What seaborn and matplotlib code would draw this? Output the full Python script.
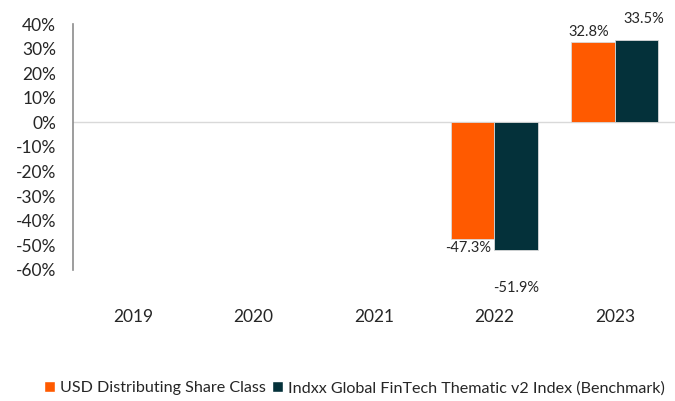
import pandas as pd
import numpy as np
import matplotlib.pyplot as plt
import seaborn as sns
from matplotlib.patches import Patch

# ------------------------------
# Data
# ------------------------------
years = ["2019", "2020", "2021", "2022", "2023"]
share_class = [np.nan, np.nan, np.nan, -47.3, 32.8]
benchmark = [np.nan, np.nan, np.nan, -51.9, 33.5]
series_names = ["USD Distributing Share Class",
                "Indxx Global FinTech Thematic v2 Index (Benchmark)"]
colors = ["#FF5A00", "#04313A"]

df = pd.DataFrame({
    "year": years * 2,
    "value": share_class + benchmark,
    "series": [series_names[0]] * len(years) + [series_names[1]] * len(years),
})

# ------------------------------
# Plot
# ------------------------------
sns.set_style("white")
plt.rcParams["font.family"] = ["Lato", "DejaVu Sans"]

fig = plt.figure(figsize=(6.75, 4.01), dpi=100)
ax = fig.add_axes([0.108, 0.327, 0.892, 0.613])

sns.barplot(data=df, x="year", y="value", hue="series", order=years,
            hue_order=series_names, palette=colors, width=0.72, saturation=1,
            edgecolor="#d9d9d9", linewidth=0.6, ax=ax, legend=False)

ax.set_ylim(-60, 40)
ax.set_xlim(-0.5, 4.5)
ax.set_yticks(np.arange(-60, 41, 10))
ax.set_yticklabels([f"{v}%" for v in range(-60, 41, 10)])
ax.axhline(0, color="#d9d9d9", linewidth=1, zorder=0)

for s in ["top", "right", "bottom"]:
    ax.spines[s].set_visible(False)
ax.spines["left"].set_color("#8c8c8c")
ax.spines["left"].set_linewidth(1.2)

ax.tick_params(axis="y", length=0, pad=12, labelsize=12.5, labelcolor="#262626")
ax.tick_params(axis="x", length=0, pad=28, labelsize=12.5, labelcolor="#262626")
ax.set_xlabel("")
ax.set_ylabel("")

# value labels (offsets in points, mimicking the original placement)
offsets = {
    (0, "2022"): (-3, -2), (1, "2022"): (0, -22),
    (0, "2023"): (-3, 2), (1, "2023"): (5, 10),
}
for i, vals in enumerate([share_class, benchmark]):
    bars = [b for b in ax.containers[i] if not np.isnan(b.get_height())]
    shown = [(yr, v) for yr, v in zip(years, vals) if not np.isnan(v)]
    for bar, (yr, v) in zip(bars, shown):
        x = bar.get_x() + bar.get_width() / 2
        dx, dy = offsets[(i, yr)]
        va = "bottom" if v > 0 else "top"
        ax.annotate(f"{v:.1f}%", (x, v), xytext=(dx, dy),
                    textcoords="offset points", ha="center", va=va,
                    fontsize=10.5, color="#262626")

handles = [Patch(facecolor=c, label=n) for c, n in zip(colors, series_names)]
fig.legend(handles=handles, loc="center", bbox_to_anchor=(0.525, 0.032),
           ncol=2, frameon=False, fontsize=11.6, handlelength=0.7,
           handleheight=0.7, handletextpad=0.3, columnspacing=0.4)

fig.savefig("out.png", dpi=100)
